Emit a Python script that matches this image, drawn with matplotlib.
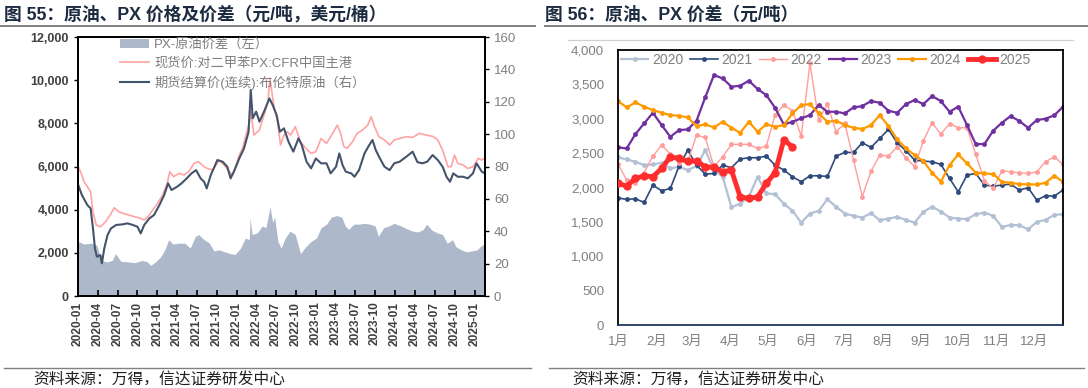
import numpy as np
import pandas as pd
import matplotlib
matplotlib.use("Agg")
import matplotlib.pyplot as plt
import matplotlib.dates as mdates
from matplotlib.lines import Line2D
from matplotlib.patches import Patch

plt.rcParams['font.family'] = ['Liberation Sans', 'Noto Sans CJK SC', 'DejaVu Sans']
plt.rcParams['axes.unicode_minus'] = False

# ---------------- left panel: PX / Brent / spread (daily, read roughly) ----------------
px_dates = ["2020-01-02", "2020-01-19", "2020-01-28", "2020-02-13", "2020-02-28", "2020-03-10",
            "2020-03-25", "2020-04-13", "2020-05-07", "2020-05-28", "2020-06-16", "2020-07-07",
            "2020-07-28", "2020-08-22", "2020-09-16", "2020-10-07", "2020-11-01", "2020-11-19",
            "2020-12-10", "2021-01-01", "2021-01-25", "2021-02-15", "2021-02-27", "2021-03-16",
            "2021-04-10", "2021-05-04", "2021-05-25", "2021-06-19", "2021-07-10", "2021-08-04",
            "2021-08-19", "2021-09-13", "2021-10-13", "2021-11-04", "2021-11-28", "2021-12-13",
            "2021-12-28", "2022-01-13", "2022-01-28", "2022-02-13", "2022-02-26", "2022-03-07",
            "2022-03-22", "2022-04-16", "2022-05-07", "2022-05-25", "2022-06-03", "2022-06-22",
            "2022-07-07", "2022-07-22", "2022-08-07", "2022-08-22", "2022-09-07", "2022-09-28",
            "2022-10-22", "2022-11-16", "2022-12-10", "2023-01-01", "2023-01-25", "2023-02-19",
            "2023-03-10", "2023-04-10", "2023-04-25", "2023-05-10", "2023-05-25", "2023-06-19",
            "2023-07-10", "2023-08-04", "2023-08-28", "2023-09-13", "2023-09-28", "2023-10-19",
            "2023-11-13", "2023-12-07", "2023-12-28", "2024-01-22", "2024-02-21", "2024-03-22",
            "2024-04-22", "2024-05-22", "2024-06-22", "2024-07-16", "2024-08-07", "2024-09-01",
            "2024-09-16", "2024-10-01", "2024-10-16", "2024-11-10", "2024-12-01", "2024-12-25",
            "2025-01-19", "2025-02-04", "2025-02-18"]
px_price = [5990, 5600, 5310, 5070, 4830, 3900, 3290, 3210, 3440, 3750, 4090, 3900,
            3830, 3750, 3680, 3630, 3520, 3680, 3980, 4290, 4680, 5220, 5760, 5530,
            5680, 5610, 5760, 6150, 6220, 5990, 5910, 5840, 6300, 6070, 5760, 5610,
            6000, 6530, 6840, 7460, 7920, 8540, 7460, 7690, 8390, 9000, 10100, 8770,
            8230, 7000, 7460, 7610, 7460, 7850, 7150, 6840, 6610, 6690, 7300, 7070,
            7380, 7920, 7540, 6920, 6840, 7150, 7540, 7690, 7920, 8310, 7850, 7380,
            7230, 7000, 7230, 7300, 7380, 7350, 7540, 7460, 7400, 7230, 6760, 5990,
            6000, 6530, 6150, 6070, 5910, 5990, 6380, 6300, 6400]

brent_dates = ["2020-01-02", "2020-01-19", "2020-02-13", "2020-02-28", "2020-03-10", "2020-03-19",
               "2020-03-28", "2020-04-13", "2020-04-20", "2020-05-01", "2020-05-16", "2020-06-01",
               "2020-06-25", "2020-07-25", "2020-08-16", "2020-09-10", "2020-10-01", "2020-10-16",
               "2020-11-01", "2020-11-25", "2020-12-16", "2021-01-10", "2021-02-01", "2021-02-19",
               "2021-03-07", "2021-04-01", "2021-04-22", "2021-05-16", "2021-06-07", "2021-06-28",
               "2021-07-19", "2021-08-04", "2021-08-16", "2021-09-04", "2021-10-04", "2021-10-28",
               "2021-11-19", "2021-12-04", "2021-12-19", "2022-01-13", "2022-02-04", "2022-02-25",
               "2022-03-07", "2022-03-16", "2022-04-01", "2022-04-16", "2022-05-07", "2022-06-01",
               "2022-06-16", "2022-07-04", "2022-07-19", "2022-08-07", "2022-08-28", "2022-09-19",
               "2022-10-13", "2022-10-28", "2022-11-19", "2022-12-10", "2023-01-01", "2023-01-25",
               "2023-02-19", "2023-03-10", "2023-04-04", "2023-04-19", "2023-05-04", "2023-05-19",
               "2023-06-13", "2023-06-28", "2023-07-19", "2023-08-13", "2023-09-04", "2023-09-19",
               "2023-10-04", "2023-10-19", "2023-11-13", "2023-12-07", "2023-12-28", "2024-01-22",
               "2024-02-21", "2024-03-22", "2024-04-13", "2024-05-07", "2024-05-28", "2024-06-22",
               "2024-07-16", "2024-08-07", "2024-08-25", "2024-09-10", "2024-09-25", "2024-10-16",
               "2024-11-10", "2024-12-01", "2024-12-25", "2025-01-10", "2025-02-04", "2025-02-18"]
brent_price = [68.6, 62.4, 56.2, 54.2, 41.8, 29.4, 24.3, 25.3, 20.2, 29.4, 37.7, 41.8,
               43.9, 44.3, 44.9, 43.9, 42.8, 38.7, 43.9, 48.0, 50.0, 56.2, 62.4, 69.6,
               65.5, 67.5, 69.6, 72.7, 75.8, 77.8, 72.7, 70.6, 66.5, 74.8, 84.0, 83.0,
               79.9, 72.7, 76.8, 85.0, 91.2, 101.5, 127.3, 109.8, 113.9, 107.7, 113.9, 122.1,
               118.0, 111.8, 101.5, 103.6, 95.3, 89.2, 97.4, 93.3, 83.0, 78.9, 85.0, 82.0,
               82.0, 75.8, 79.9, 88.1, 80.9, 76.8, 75.8, 73.7, 77.8, 88.1, 93.3, 96.4,
               90.2, 86.1, 79.9, 77.8, 82.0, 83.0, 86.0, 89.2, 82.7, 82.0, 83.0, 87.1,
               84.0, 79.9, 73.7, 70.6, 75.8, 73.7, 73.7, 72.7, 75.8, 82.0, 76.8, 75.8]

spread_dates = ["2020-01-01", "2020-01-28", "2020-03-04", "2020-03-28", "2020-04-10", "2020-04-22",
                "2020-05-13", "2020-06-07", "2020-06-22", "2020-07-16", "2020-08-19", "2020-09-19",
                "2020-10-22", "2020-11-16", "2020-12-01", "2020-12-25", "2021-01-16", "2021-02-04",
                "2021-02-22", "2021-03-13", "2021-04-07", "2021-05-07", "2021-06-01", "2021-06-25",
                "2021-07-10", "2021-08-04", "2021-08-28", "2021-09-19", "2021-10-13", "2021-11-07",
                "2021-12-01", "2021-12-25", "2022-01-19", "2022-02-10", "2022-02-28", "2022-03-04",
                "2022-03-13", "2022-04-07", "2022-04-28", "2022-05-16", "2022-06-04", "2022-06-16",
                "2022-06-25", "2022-07-10", "2022-07-25", "2022-08-13", "2022-09-04", "2022-09-28",
                "2022-10-22", "2022-11-16", "2022-12-10", "2023-01-04", "2023-01-25", "2023-02-19",
                "2023-03-13", "2023-04-07", "2023-05-01", "2023-05-16", "2023-06-01", "2023-06-25",
                "2023-07-19", "2023-08-13", "2023-09-07", "2023-10-01", "2023-10-16", "2023-11-10",
                "2023-12-04", "2023-12-28", "2024-01-28", "2024-02-21", "2024-03-22", "2024-04-16",
                "2024-05-10", "2024-05-25", "2024-06-19", "2024-07-13", "2024-08-07", "2024-08-28",
                "2024-09-22", "2024-10-07", "2024-11-01", "2024-11-25", "2024-12-19", "2025-01-13",
                "2025-01-28", "2025-02-18"]
spread_vals = [2530, 2410, 2450, 2350, 1900, 1650, 1580, 1650, 1970, 1610, 1580, 1550,
               1650, 1580, 1420, 1600, 1820, 2140, 2610, 2410, 2450, 2450, 2220, 2770,
               2850, 2610, 2450, 2090, 2140, 2050, 1970, 1930, 2220, 2690, 2610, 3620,
               2850, 2930, 3250, 3170, 4130, 3410, 3650, 2530, 2220, 2690, 3010, 2850,
               1970, 2290, 2530, 2690, 3170, 3330, 3650, 3730, 3650, 3250, 3090, 3330,
               3330, 3370, 3330, 3250, 2770, 3170, 3250, 3370, 3250, 3130, 3010, 2970,
               3090, 3330, 3050, 2930, 2850, 2450, 2610, 2290, 2140, 2050, 2090, 2140,
               2290, 2450]

left_labels = ["PX-原油价差（左）", "现货价:对二甲苯PX:CFR中国主港", "期货结算价(连续):布伦特原油（右）"]

# ---------------- right panel: weekly crude-PX spread by year ----------------
years = ["2020", "2021", "2022", "2023", "2024", "2025"]
y2020 = [2439, 2410, 2376, 2327, 2337, 2361, 2279, 2303, 2255, 2313, 2545, 2255, 2158,
         1715, 1765, 1867, 2158, 1915, 1905, 1765, 1662, 1491, 1623, 1662, 1830, 1721,
         1623, 1589, 1564, 1628, 1525, 1550, 1574, 1530, 1491, 1647, 1721, 1652, 1564,
         1550, 1540, 1613, 1637, 1589, 1427, 1457, 1452, 1393, 1501, 1530, 1603, 1613]
y2021 = [1850, 1828, 1838, 1784, 2036, 1954, 1988, 2313, 2545, 2327, 2196, 2206, 2327,
         2288, 2415, 2434, 2434, 2458, 2327, 2255, 2158, 2085, 2172, 2172, 2162, 2458,
         2511, 2511, 2652, 2584, 2715, 2846, 2652, 2536, 2400, 2385, 2376, 2337, 2133,
         1939, 2182, 2206, 2036, 2022, 2036, 2051, 1964, 1998, 1818, 1881, 1876, 1964]
y2022 = [2342, 2109, 2061, 2216, 2458, 2618, 2487, 2361, 2376, 2764, 2730, 2303, 2448,
         2628, 2628, 2628, 2570, 2604, 3054, 3200, 3117, 2749, 3806, 2982, 3214, 2812,
         2933, 2400, 1867, 2240, 2473, 2458, 2594, 2434, 2303, 2681, 2943, 2778, 2928,
         2870, 2870, 2487, 2099, 1988, 2245, 2230, 2216, 2206, 2230, 2376, 2448, 2337]
y2023 = [2584, 2570, 2778, 2933, 3088, 2909, 2739, 2836, 2846, 2972, 3312, 3636, 3588,
         3467, 3481, 3554, 3433, 3345, 3161, 2919, 2957, 3006, 3054, 3200, 3103, 3103,
         3079, 3166, 3185, 3258, 3234, 3117, 3088, 3214, 3273, 3214, 3331, 3258, 3103,
         3176, 2909, 2633, 2633, 2827, 2943, 3040, 2967, 2870, 2982, 3001, 3050, 3176]
y2024 = [3258, 3166, 3239, 3176, 3127, 3088, 3054, 3045, 3021, 2894, 2919, 2875, 2957,
         2870, 2797, 2957, 2812, 2919, 2885, 2909, 3079, 3200, 3214, 3079, 2957, 2972,
         2909, 2870, 2851, 2909, 3054, 2894, 2701, 2570, 2473, 2385, 2216, 2085, 2327,
         2482, 2352, 2216, 2206, 2196, 2085, 2070, 2051, 2046, 2046, 2070, 2172, 2085]
y2025 = [2061, 2022, 2133, 2172, 2158, 2279, 2448, 2424, 2385, 2385, 2303, 2293, 2230,
         2255, 1867, 1842, 1867, 2061, 2216, 2691, 2594]
year_colors = ["#b4c0d4", "#2f4a7c", "#ff9c9c", "#7030a0", "#ff9900", "#ff2d2d"]
month_names = ["1月", "2月", "3月", "4月", "5月", "6月", "7月", "8月", "9月", "10月", "11月", "12月"]

fig = plt.figure(figsize=(10.88, 3.88), dpi=100)

title_color = "#1c2b40"
grey_txt = "#7f7f7f"

# titles
fig.text(0.004, 0.962, "图 55：原油、PX 价格及价差（元/吨，美元/桶）", fontsize=12.8,
         fontweight="bold", color=title_color, va="center", ha="left")
fig.text(0.501, 0.962, "图 56：原油、PX 价差（元/吨）", fontsize=12.8,
         fontweight="bold", color=title_color, va="center", ha="left")
for x0, x1 in [(0.0, 0.492), (0.501, 1.0)]:
    fig.add_artist(Line2D([x0, x1], [0.932, 0.932], color="#808080", lw=1.4))
    fig.add_artist(Line2D([x0 + 0.004, x1 - 0.004], [0.051, 0.051], color="#808080", lw=1.0))
fig.add_artist(Line2D([0.522, 0.986], [0.896, 0.896], color="#d0d0d0", lw=0.9))
fig.text(0.031, 0.022, "资料来源：万得，信达证券研发中心", fontsize=11.3, style="italic",
         color="#202020", va="center")
fig.text(0.526, 0.022, "资料来源：万得，信达证券研发中心", fontsize=11.3, style="italic",
         color="#202020", va="center")

# ---------------- left chart ----------------
ax1 = fig.add_axes([0.0717, 0.237, 0.374, 0.6675])
sd = pd.to_datetime(spread_dates)
ax1.fill_between(sd, spread_vals, 0, color="#adb9ca", lw=0)
ax1.plot(pd.to_datetime(px_dates), px_price, color="#ffa3a3", lw=1.2)
ax1.set_ylim(0, 12000)
ax1.set_yticks(np.arange(0, 12001, 2000))
ax1.yaxis.set_major_formatter(matplotlib.ticker.FuncFormatter(lambda v, p: f"{int(v):,}"))
ax1.set_xlim(pd.Timestamp("2020-01-01"), pd.Timestamp("2025-02-18"))
ax1.xaxis.set_major_locator(mdates.MonthLocator(bymonth=[1, 4, 7, 10]))
ax1.xaxis.set_major_formatter(mdates.DateFormatter("%Y-%m"))
ax1.tick_params(axis="x", direction="in", length=4, width=1.2, rotation=90,
                labelsize=8.6, labelcolor="#404040", pad=4)
ax1.tick_params(axis="y", direction="out", length=3, width=1, labelsize=9,
                labelcolor="#404040")
for lab in ax1.get_xticklabels() + ax1.get_yticklabels():
    lab.set_fontweight("bold")

ax2 = ax1.twinx()
ax2.plot(pd.to_datetime(brent_dates), brent_price, color="#44546a", lw=1.5)
ax2.set_ylim(0, 160)
ax2.set_yticks(np.arange(0, 161, 20))
ax2.tick_params(axis="y", direction="out", length=3, width=1, labelsize=9.5,
                labelcolor=grey_txt)
for ax in (ax1, ax2):
    for s in ax.spines.values():
        s.set_color("black")
        s.set_linewidth(1.3)

handles = [Patch(facecolor="#adb9ca", edgecolor="none"),
           Line2D([], [], color="#ffa3a3", lw=1.2),
           Line2D([], [], color="#44546a", lw=1.5)]
ax2.legend(handles, left_labels, loc="upper left", bbox_to_anchor=(0.1, 1.0),
           frameon=False, fontsize=9.5, labelcolor=grey_txt, handlelength=2.2,
           handletextpad=0.4, borderaxespad=0, borderpad=0.1, labelspacing=0.45)

# ---------------- right chart ----------------
ax3 = fig.add_axes([0.568, 0.162, 0.409, 0.709])
weeks = pd.date_range("2001-01-01", periods=52, freq="7D")
series = [y2020, y2021, y2022, y2023, y2024, y2025]
widths = [1.6, 1.2, 1.0, 1.6, 1.6, 3.5]
msizes = [3.5, 3.5, 3.5, 3.5, 3.5, 6]
for name, vals, col, lw, ms in zip(years, series, year_colors, widths, msizes):
    ax3.plot(weeks[:len(vals)], vals, color=col, lw=lw, marker="o", ms=ms,
             markeredgewidth=0, label=name, zorder=3 if name == "2025" else 2)
ax3.set_xlim(weeks[0], weeks[-1])
ax3.set_ylim(0, 4000)
ax3.set_yticks(np.arange(0, 4001, 500))
ax3.yaxis.set_major_formatter(matplotlib.ticker.FuncFormatter(lambda v, p: f"{int(v):,}"))
ax3.xaxis.set_major_locator(mdates.MonthLocator())
ax3.xaxis.set_major_formatter(
    matplotlib.ticker.FuncFormatter(lambda v, p: month_names[mdates.num2date(v).month - 1]))
ax3.tick_params(axis="both", length=0, labelsize=9.5, labelcolor=grey_txt)
ax3.tick_params(axis="x", pad=8)
ax3.tick_params(axis="y", pad=10)
for k, s in ax3.spines.items():
    s.set_color("black")
    s.set_linewidth(1.3)
ax3.spines["bottom"].set_color("#1f3864")
ax3.legend(loc="upper left", bbox_to_anchor=(0.003, 0.995), ncol=6, frameon=False,
           fontsize=10, labelcolor=grey_txt, handlelength=2.0, handletextpad=0.25,
           columnspacing=0.5, borderaxespad=0, borderpad=0.1)

fig.savefig("out.png", dpi=100)
